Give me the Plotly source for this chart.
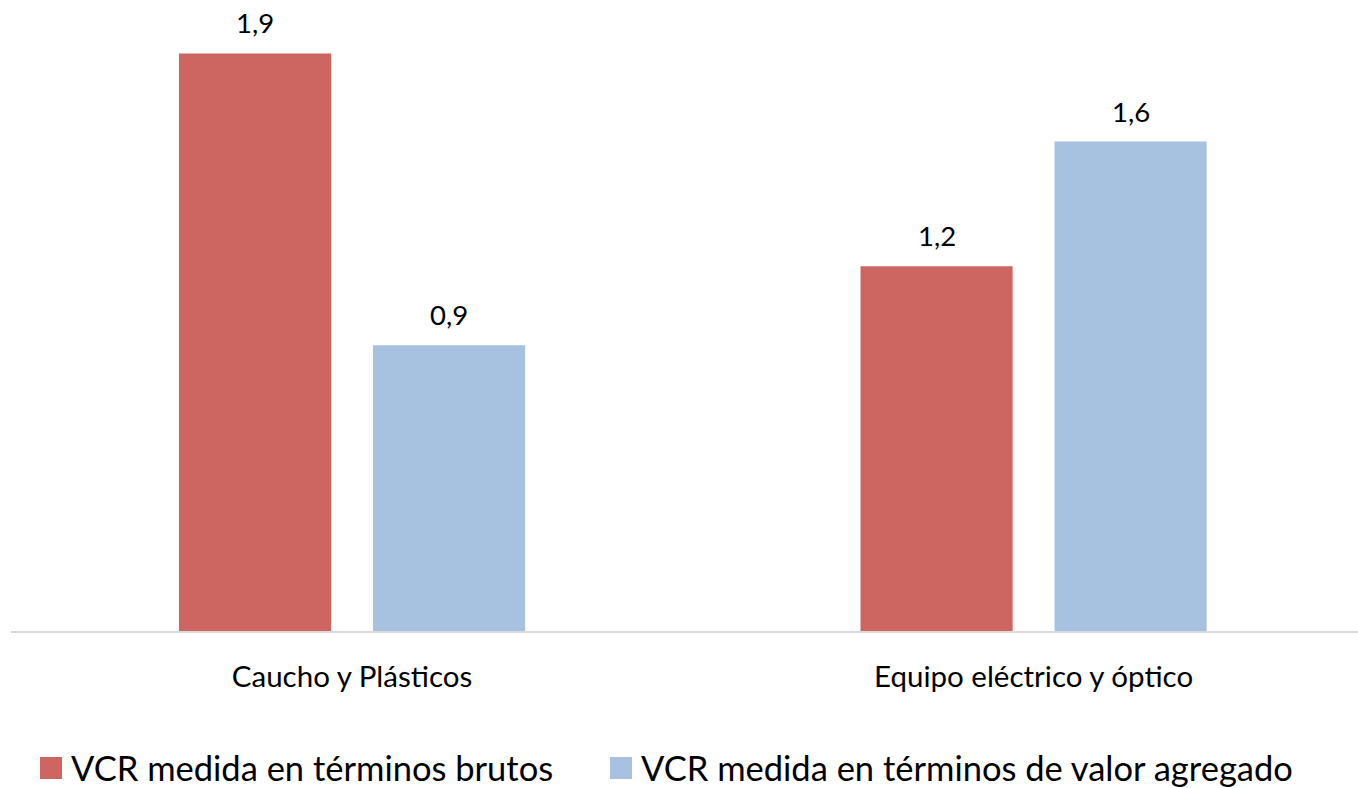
import plotly.graph_objects as go

# Data
categories = ["Caucho y Plásticos", "Equipo eléctrico y óptico"]
series_names = ["VCR medida en términos brutos", "VCR medida en términos de valor agregado"]
vcr_brutos = [1.90, 1.20]
vcr_valor_agregado = [0.94, 1.61]
colors = ["#CD6660", "#A7C1E0"]

# Figure geometry (pixels)
W, H = 1358, 788
M_L, M_R, M_T, M_B = 11, 0, 23, 157
plot_w = W - M_L - M_R
plot_h = H - M_T - M_B

BARGAP = 0.4306
BARGROUPGAP = 0.216
FONT = "Lato"

x_pos = list(range(len(categories)))
slot = (1 - BARGAP) / 2
offsets = [-slot / 2, slot / 2]


def px_x(px):
    return (px - M_L) / plot_w


def px_y(py):
    return (H - M_B - py) / plot_h


fig = go.Figure()
series = [vcr_brutos, vcr_valor_agregado]
for name, vals, col in zip(series_names, series, colors):
    fig.add_trace(go.Bar(
        x=x_pos, y=vals, name=name,
        marker=dict(color=col, line=dict(width=0)),
        showlegend=False,
    ))

annotations = []
# value labels above each bar
for vals, off in zip(series, offsets):
    for xi, v in zip(x_pos, vals):
        annotations.append(dict(
            x=xi + off, y=v, xref="x", yref="y",
            text=f"{v:.1f}".replace(".", ","),
            showarrow=False, yanchor="bottom", yshift=12,
            font=dict(family=FONT, size=27.5, color="#000000"),
        ))

# legend drawn below the axis
shapes = []
legend_items = [(40, 69), (610, 639)]
for (sq_x, tx_x), name, col in zip(legend_items, series_names, colors):
    shapes.append(dict(
        type="rect", xref="paper", yref="paper",
        x0=px_x(sq_x), x1=px_x(sq_x + 22),
        y0=px_y(779), y1=px_y(757),
        fillcolor=col, line=dict(width=0),
    ))
    annotations.append(dict(
        x=px_x(tx_x), y=px_y(767), xref="paper", yref="paper",
        text=name, showarrow=False, xanchor="left", yanchor="middle",
        font=dict(family=FONT, size=34.5, color="#000000"),
    ))

fig.update_layout(
    width=W, height=H,
    margin=dict(l=M_L, r=M_R, t=M_T, b=M_B, pad=0),
    paper_bgcolor="white", plot_bgcolor="white",
    barmode="group", bargap=BARGAP, bargroupgap=BARGROUPGAP,
    annotations=annotations, shapes=shapes,
    xaxis=dict(
        range=[-0.5004, 1.476],
        tickmode="array", tickvals=x_pos, ticktext=categories,
        ticks="outside", ticklen=19, tickcolor="rgba(0,0,0,0)",
        tickfont=dict(family=FONT, size=29.5, color="#000000"),
        showline=True, linecolor="#D9D9D9", linewidth=2,
        showgrid=False, zeroline=False, fixedrange=True,
    ),
    yaxis=dict(
        range=[0, 2.0], visible=False, showgrid=False, zeroline=False,
        fixedrange=True,
    ),
    font=dict(family=FONT),
)

fig.write_html("out.html")
